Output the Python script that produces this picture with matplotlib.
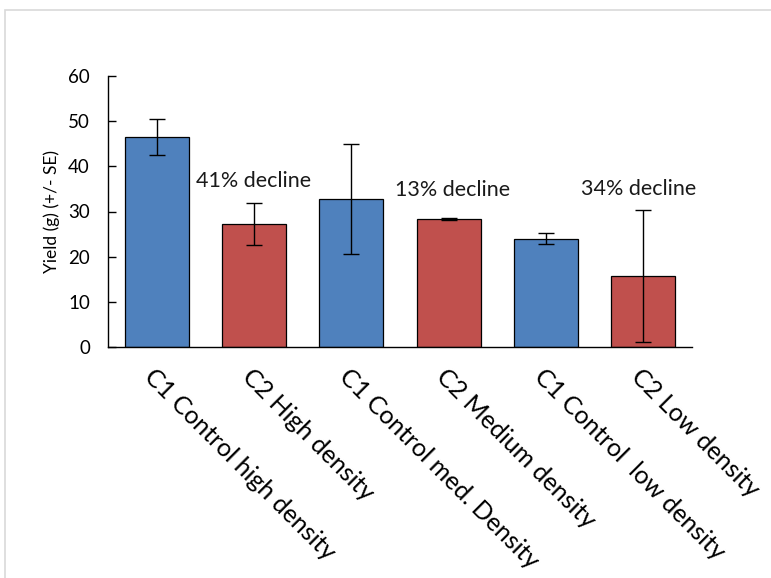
import matplotlib
matplotlib.use("Agg")
import matplotlib.pyplot as plt
from matplotlib.patches import Rectangle

categories = ["C1 Control high density", "C2 High density", "C1 Control med. Density",
              "C2 Medium density", "C1 Control  low density", "C2 Low density"]
yields = [46.5, 27.2, 32.7, 28.4, 24.0, 15.8]
se = [3.9, 4.7, 12.2, 0.2, 1.25, 14.6]
bar_colors = ["#4F81BD", "#C0504D", "#4F81BD", "#C0504D", "#4F81BD", "#C0504D"]
notes = ["41% decline", "13% decline", "34% decline"]
note_x = [1.0, 3.04, 4.95]
note_y = [36.7, 34.8, 35.0]

plt.rcParams['font.family'] = ['Lato', 'DejaVu Sans']

fig = plt.figure(figsize=(7.71, 5.78), dpi=100)
fig.patches.append(Rectangle((5/771, -0.1), 2.0, 1 - 10/578 + 0.1, transform=fig.transFigure,
                             fill=False, edgecolor="#d9d9d9", linewidth=1.2))
ax = fig.add_axes([108/771, 1 - 347/578, 584/771, 271/578])

x = list(range(len(categories)))
ax.bar(x, yields, width=0.66, color=bar_colors, edgecolor="black", linewidth=0.9, zorder=2)
ax.errorbar(x, yields, yerr=se, fmt="none", ecolor="black", elinewidth=1.0,
            capsize=6, capthick=1.0, zorder=3)

for t, tx, ty in zip(notes, note_x, note_y):
    ax.text(tx, ty, t, ha="center", va="center", fontsize=15.5, color="#1a1a1a")

ax.set_xlim(-0.5, 5.5)
ax.set_ylim(0, 60)
ax.set_yticks(range(0, 61, 10))
ax.tick_params(axis="y", direction="in", length=6, width=1, labelsize=13.5, pad=13)
ax.tick_params(axis="x", length=0, pad=13)
ax.set_xticks(x)
ax.set_xticklabels(categories, rotation=-45, ha="left", va="top",
                   rotation_mode="anchor", fontsize=18)
ax.set_ylabel("Yield (g) (+/- SE)", fontsize=12.5, labelpad=6)
for s in ["top", "right"]:
    ax.spines[s].set_visible(False)
for s in ["left", "bottom"]:
    ax.spines[s].set_linewidth(1.0)

fig.savefig("out.png", dpi=100)
